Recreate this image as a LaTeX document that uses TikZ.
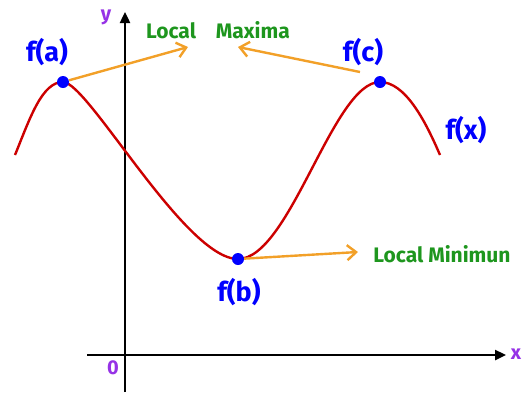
\documentclass[tikz,border=0pt]{standalone}
\usepackage{fontspec}
\setsansfont{Fira Sans}
\usetikzlibrary{arrows.meta,positioning,calc}
\definecolor{curvered}{RGB}{204,0,0}
\definecolor{dotblue}{RGB}{0,0,255}
\definecolor{labgreen}{RGB}{30,150,30}
\definecolor{arrorange}{RGB}{242,160,40}
\definecolor{axpurple}{RGB}{150,50,230}
\tikzset{
 extr/.style={circle,fill=dotblue,inner sep=0pt,minimum size=12pt},
 flab/.style={text=dotblue,font=\sffamily\bfseries\fontsize{27}{30}\selectfont},
 glab/.style={text=labgreen,font=\sffamily\bfseries\fontsize{21}{24}\selectfont},
 axlab/.style={text=axpurple,font=\sffamily\bfseries\fontsize{20}{24}\selectfont},
 pointer/.style={arrorange,line width=2.4pt,-{Straight Barb[length=9pt,width=15pt,line width=2.4pt]}}
}
\begin{document}
\begin{tikzpicture}[x=1pt,y=-1pt,>=Stealth]
 \useasboundingbox (0,0) rectangle (525,392);
 % axes
 \draw[line width=2.4pt,-{Triangle[length=11pt,width=10pt]}] (125,392)--(125,12);
 \draw[line width=2.4pt,-{Triangle[length=11pt,width=10pt]}] (87,355)--(506,355);
 \node[axlab] (ylab) at (106,17) {y};
 \node[axlab] (xlab) at (516,354) {x};
 \node[axlab] (orig) at (113,368) {0};
 % the curve
 \draw[curvered,line width=2.4pt] (15,155) .. controls (30,118) and (42,82) .. (63,82)
 .. controls (88,82) and (185,259) .. (238,259)
 .. controls (290,259) and (333,82) .. (380,82)
 .. controls (405,82) and (425,120) .. (440,155);
 % extrema
 \node[extr] (fa) at (63,82) {};
 \node[extr] (fb) at (238,259) {};
 \node[extr] (fc) at (380,82) {};
 \node[flab] (la) at (47,52) {f(a)};
 \node[flab] (lb) at (239,292) {f(b)};
 \node[flab] (lc) at (363,52) {f(c)};
 \node[flab] (lx) at (466,130) {f(x)};
 \node[glab] (maxima) at (218,30) {Local\hspace{20pt}Maxima};
 \node[glab] (minimum) at (442,254) {Local Minimun};
 % pointers
 \coordinate (tipa) at (188,47);
 \coordinate (tipc) at (238,47);
 \coordinate (tailc) at (360,72);
 \coordinate (tipb) at (358,252);
 \draw[pointer] (fa) -- (tipa);
 \draw[pointer] (tailc) -- (tipc);
 \draw[pointer] (fb) -- (tipb);
\end{tikzpicture}
\end{document}
